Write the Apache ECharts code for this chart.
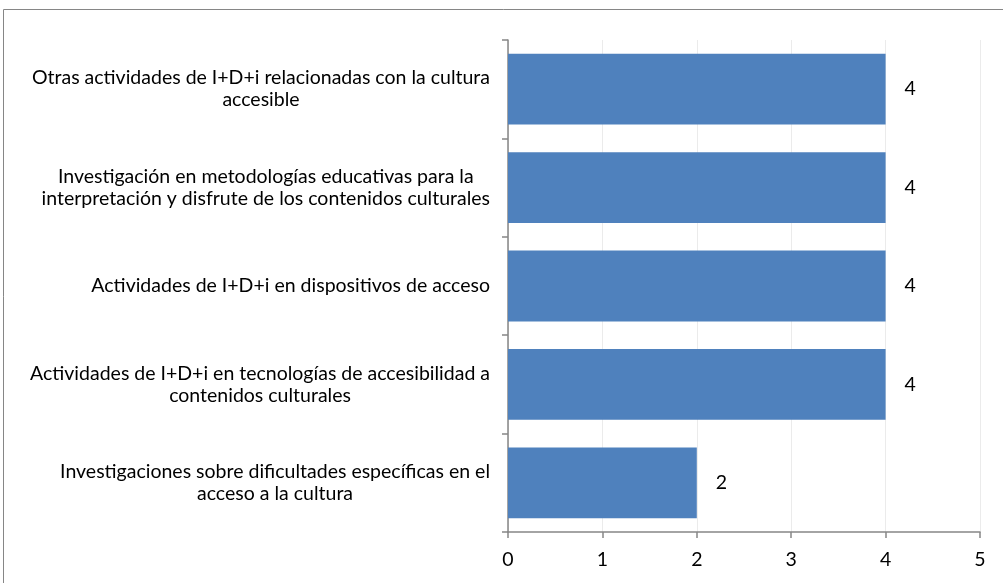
<!DOCTYPE html>
<html>
<head>
<meta charset="utf-8">
<script src="https://cdn.jsdelivr.net/npm/echarts@6/dist/echarts.min.js"></script>
<style>html,body{margin:0;padding:0;background:#fff}#c{width:1003px;height:583px}</style>
</head>
<body>
<div id="c"></div>
<script>
var categories = [
  "Otras actividades de I+D+i relacionadas con la cultura\naccesible",
  "Investigación en metodologías educativas para la\ninterpretación y disfrute de los contenidos culturales",
  "Actividades de I+D+i en dispositivos de acceso",
  "Actividades de I+D+i en tecnologías de accesibilidad a\ncontenidos culturales",
  "Investigaciones sobre dificultades específicas en el\nacceso a la cultura"
];
var values = [4, 4, 4, 4, 2];
var xTicks = [0, 1, 2, 3, 4, 5];

var FONT = "Lato";
var FS = 19.5;
var chart = echarts.init(document.getElementById('c'));
chart.setOption({
  animation: false,
  backgroundColor: '#fff',
  graphic: [{
    type: 'rect', silent: true, z: -1,
    shape: {x: 3.5, y: 9.5, width: 1010, height: 600},
    style: {fill: 'none', stroke: '#868686', lineWidth: 1}
  }],
  grid: {left: 508, right: 23, top: 40, bottom: 51, containLabel: false},
  xAxis: {
    type: 'value', min: xTicks[0], max: xTicks[xTicks.length - 1], interval: 1,
    axisLine: {show: true, lineStyle: {color: '#868686', width: 1.5}},
    axisTick: {show: true, length: 6, lineStyle: {color: '#868686', width: 1.5}},
    splitLine: {show: true, lineStyle: {color: '#ebebeb', width: 1}},
    axisLabel: {margin: 18, color: '#000', fontFamily: FONT, fontSize: FS}
  },
  yAxis: {
    type: 'category', inverse: true, data: categories,
    axisLine: {show: true, lineStyle: {color: '#868686', width: 1.5}},
    axisTick: {show: true, length: 6, lineStyle: {color: '#868686', width: 1.5}},
    splitLine: {show: false},
    axisLabel: {
      margin: 18, color: '#000', fontFamily: FONT, fontSize: FS, lineHeight: 22,
      formatter: function (v) {
        return v.split('\n').map(function (l) { return '{c|' + l + '}'; }).join('\n');
      },
      rich: {c: {align: 'center', fontFamily: FONT, fontSize: FS, lineHeight: 22, color: '#000'}}
    }
  },
  series: [{
    type: 'bar', data: values, barCategoryGap: '28%',
    itemStyle: {color: '#4f81bd'},
    label: {show: true, position: 'right', distance: 19, color: '#000', fontFamily: FONT, fontSize: FS}
  }]
});
</script>
</body>
</html>
